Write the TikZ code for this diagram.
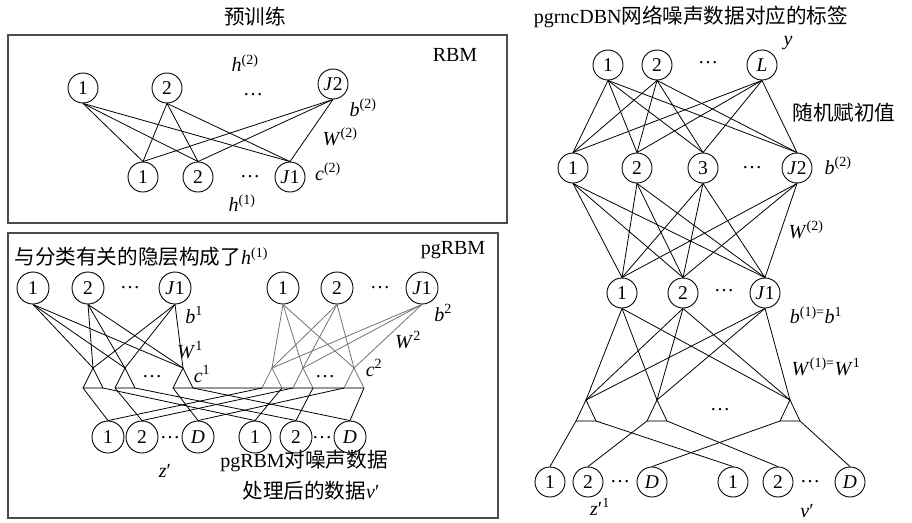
\documentclass[tikz,border=0pt]{standalone}
\usepackage{fontspec}
\setmainfont{Liberation Serif}
\newfontfamily\cjk[Scale=1.03]{Noto Sans CJK SC}
\begin{document}
\begin{tikzpicture}[x=1pt,y=-1pt,
  every node/.style={font=\fontsize{20}{23}\selectfont},
  nd/.style={circle,draw,line width=0.9pt,minimum size=30pt,inner sep=0pt,font=\fontsize{19.5}{21}\selectfont},
  ndb/.style={nd,minimum size=32pt},
  cn/.style={line width=0.8pt},
  gcn/.style={line width=0.8pt,draw=black!55},
  basel/.style={line width=1.2pt,draw=black!40},
  frame/.style={draw=black!70,line width=1.4pt}]
\useasboundingbox (0,0) rectangle (912,522);

% ---------------- RBM (pre-training) ----------------
\node (t0) at (255,17) {\cjk 预训练};
\draw[frame] (8,35) rectangle (507,223);
\node (trbm) at (455,55) {RBM};
\node[nd] (a1) at (83,88) {1};
\node[nd] (a2) at (167,88) {2};
\node (ad) at (253,95) {…};
\node[nd] (aJ) at (333,84) {\textit{J}2};
\node[nd] (c1) at (143,177) {1};
\node[nd] (c2) at (198,177) {2};
\node (cd) at (250,177) {…};
\node[nd] (cJ) at (290,177) {\textit{J}1};
\foreach \s in {a1,a2,aJ} \foreach \t in {c1,c2,cJ} \draw[cn] (\s.south) -- (\t.north);
\node (lh2) at (245,63) {\textit{h}\textsuperscript{(2)}};
\node (lh1) at (242,203) {\textit{h}\textsuperscript{(1)}};
\node (lb2) at (363,108) {\textit{b}\textsuperscript{(2)}};
\node (lw2) at (340,137) {\textit{W}\textsuperscript{(2)}};
\node (lc2) at (328,172) {\textit{c}\textsuperscript{(2)}};

% ---------------- pgRBM ----------------
\draw[frame] (8,233) rectangle (498,518);
\node[anchor=west] (ptxt) at (11,257) {{\cjk 与分类有关的隐层构成了}\textit{h}\textsuperscript{(1)}};
\node (prbm) at (453,250) {pgRBM};
\node[ndb] (p1) at (33,288) {1};
\node[ndb] (p2) at (88,288) {2};
\node (pd) at (130,288) {…};
\node[ndb] (pJ) at (175,288) {\textit{J}1};
\node[ndb] (q1) at (283,288) {1};
\node[ndb] (q2) at (337,288) {2};
\node (qd) at (380,288) {…};
\node[ndb] (qJ) at (422,288) {\textit{J}1};

\foreach \i/\x in {1/93,2/125,3/183,4/272,5/303,6/354} {
  \coordinate (ta\i) at (\x,368);
  \coordinate (tl\i) at (\x-10,388);
  \coordinate (tr\i) at (\x+10,388);
}
\draw[basel] (tl1) -- (tr1);
\draw[basel] (tl2) -- (tr2);
\draw[basel] (tl3) -- (tr6);
\foreach \i in {1,2,3} \draw[cn] (tl\i) -- (ta\i) -- (tr\i);
\foreach \i in {4,5,6} \draw[gcn] (tl\i) -- (ta\i) -- (tr\i);
\foreach \s in {p1,p2,pJ} \foreach \t in {1,2,3} \draw[cn] (\s.south) -- (ta\t);
\foreach \s in {q1,q2,qJ} \foreach \t in {4,5,6} \draw[gcn] (\s.south) -- (ta\t);
\node (md1) at (152,377) {…};
\node (md2) at (325,377) {…};

\node[ndb] (z1) at (108,437) {1};
\node[ndb] (z2) at (142,437) {2};
\node (zd) at (170,438) {…};
\node[ndb] (zD) at (198,437) {\textit{D}};
\node[ndb] (v1) at (255,437) {1};
\node[ndb] (v2) at (296,437) {2};
\node (vd) at (322,438) {…};
\node[ndb] (vD) at (350,437) {\textit{D}};
\draw[cn] (tl1) -- (z1.north);
\draw[cn] (tl2) -- (z2.north);
\draw[cn] (tl3) -- (zD.north);
\draw[cn] (tr1) -- (v1.north);
\draw[cn] (tr2) -- (v2.north);
\draw[cn] (tr3) -- (vD.north);
\draw[cn] (tl4) -- (z1.north);
\draw[cn] (tl5) -- (z2.north);
\draw[cn] (tl6) -- (zD.north);
\draw[cn] (tr4) -- (v1.north);
\draw[cn] (tr5) -- (v2.north);
\draw[cn] (tr6) -- (vD.north);

\node (pb1) at (194,315) {\textit{b}\textsuperscript{1}};
\node (pw1) at (190,350) {\textit{W}\textsuperscript{1}};
\node (pc1) at (202,374) {\textit{c}\textsuperscript{1}};
\node (pb2) at (443,313) {\textit{b}\textsuperscript{2}};
\node (pw2) at (408,340) {\textit{W}\textsuperscript{2}};
\node (pc2) at (374,368) {\textit{c}\textsuperscript{2}};
\node (pz) at (165,471) {\textit{z}′};
\node (pt1) at (304,461) {pgRBM{\cjk 对噪声数据}};
\node (pt2) at (311,491) {{\cjk 处理后的数据}\textit{v}′};

% ---------------- pgrncDBN ----------------
\node (dt) at (691,17) {pgrncDBN{\cjk 网络噪声数据对应的标签}};
\node[nd] (y1) at (608,65) {1};
\node[nd] (y2) at (657,65) {2};
\node (yd) at (708,63) {…};
\node[nd] (yL) at (762,65) {\textit{L}};
\node (ylab) at (788,43) {\textit{y}};
\node[anchor=west] (rand) at (789,113) {\cjk 随机赋初值};

\node[nd] (g1) at (573,168) {1};
\node[nd] (g2) at (637,168) {2};
\node[nd] (g3) at (703,168) {3};
\node (gd) at (752,168) {…};
\node[nd] (gJ) at (797,168) {\textit{J}2};
\node (gb) at (838,166) {\textit{b}\textsuperscript{(2)}};
\foreach \s in {y1,y2,yL} \foreach \t in {g1,g2,g3,gJ} \draw[cn] (\s.south) -- (\t.north);

\node[nd] (m1) at (622,293) {1};
\node[nd] (m2) at (683,293) {2};
\node (md) at (724,291) {…};
\node[nd] (mJ) at (765,293) {\textit{J}1};
\foreach \s in {g1,g2,g3,gJ} \foreach \t in {m1,m2,mJ} \draw[cn] (\s.south) -- (\t.north);
\node (dw2) at (806,230) {\textit{W}\textsuperscript{(2)}};
\node (db1) at (816,315) {\textit{b}\textsuperscript{(1)=}\textit{b}\textsuperscript{1}};
\node (dw1) at (826,367) {\textit{W}\textsuperscript{(1)=}\textit{W}\textsuperscript{1}};

\foreach \i/\x in {1/586,2/657,3/790} {
  \coordinate (da\i) at (\x,400);
  \coordinate (dl\i) at (\x-10,421);
  \coordinate (dr\i) at (\x+10,421);
}
\foreach \i in {1,2,3} {
  \draw[basel] (dl\i) -- (dr\i);
  \draw[cn] (dl\i) -- (da\i) -- (dr\i);
}
\foreach \s in {m1,m2,mJ} \foreach \t in {1,2,3} \draw[cn] (\s.south) -- (da\t);
\node (dd) at (720,410) {…};

\node[nd] (e1) at (550,482) {1};
\node[nd] (e2) at (588,482) {2};
\node (ed) at (620,482) {…};
\node[nd] (eD) at (652,482) {\textit{D}};
\node[nd] (f1) at (733,482) {1};
\node[nd] (f2) at (778,482) {2};
\node (fd) at (810,482) {…};
\node[nd] (fD) at (850,482) {\textit{D}};
\draw[cn] (dl1) -- (e1.north);
\draw[cn] (dl2) -- (e2.north);
\draw[cn] (dl3) -- (eD.north);
\draw[cn] (dr1) -- (f1.north);
\draw[cn] (dr2) -- (f2.north);
\draw[cn] (dr3) -- (fD.north);
\node (dz) at (600,507) {\textit{z}′\textsuperscript{1}};
\node (dv) at (807,511) {\textit{v}′};
\end{tikzpicture}
\end{document}
